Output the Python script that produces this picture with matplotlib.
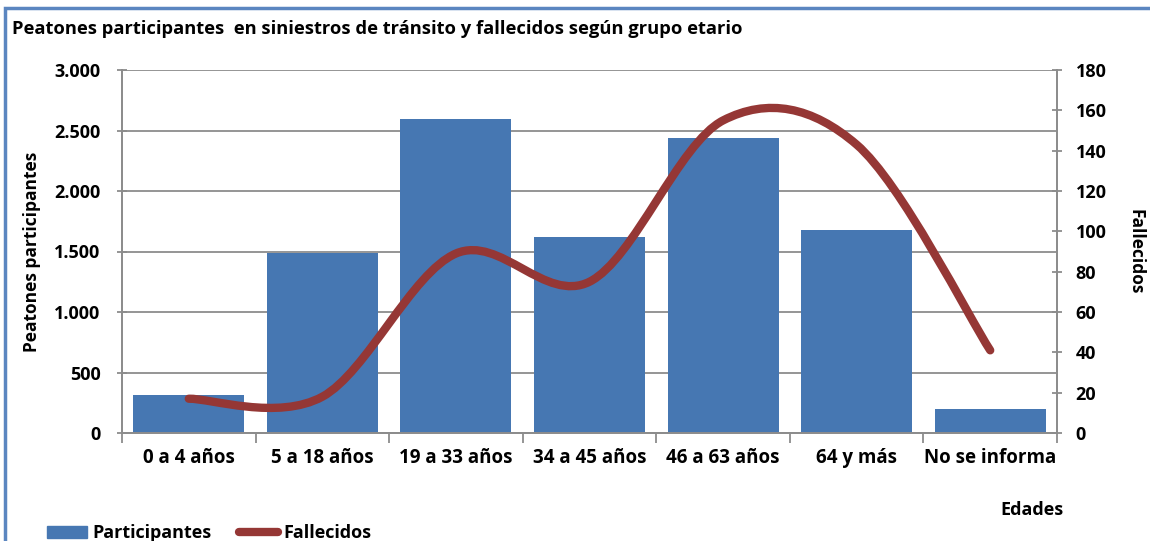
import numpy as np
import matplotlib.pyplot as plt
from matplotlib.path import Path
from matplotlib.patches import PathPatch, Rectangle
from matplotlib.lines import Line2D
from matplotlib.ticker import FuncFormatter

plt.rcParams['font.family'] = ['Open Sans', 'DejaVu Sans']
plt.rcParams['font.weight'] = 'bold'

# datos
grupos = ['0 a 4 años', '5 a 18 años', '19 a 33 años', '34 a 45 años',
          '46 a 63 años', '64 y más', 'No se informa']
participantes = [312, 1488, 2595, 1618, 2438, 1675, 198]
fallecidos = [17, 18, 89, 75, 155, 143, 41]

color_barra = '#4677b2'
color_linea = '#953735'
color_gris = '#8c8c8c'

fig = plt.figure(figsize=(11.5, 5.41), dpi=100)
ax = fig.add_axes([122 / 1150, 1 - 433 / 541, (1057 - 122) / 1150, (433 - 70) / 541])
ax2 = ax.twinx()

x = np.arange(len(grupos))
ax.bar(x, participantes, width=0.83, color=color_barra, zorder=2)

ax.set_xlim(-0.5, len(grupos) - 0.5)
ax.set_ylim(0, 3000)
ax.set_yticks(np.arange(0, 3001, 500))
ax.yaxis.set_major_formatter(FuncFormatter(lambda v, p: f'{int(v):,}'.replace(',', '.')))
ax.grid(axis='y', color=color_gris, linewidth=1.3, zorder=0)
ax.set_axisbelow(True)

ax.set_xticks(x)
ax.set_xticklabels(grupos, fontsize=13.5, fontweight='bold')
ax.set_xticks(np.arange(-0.5, len(grupos), 1), minor=True)
ax.tick_params(axis='x', which='major', length=0, pad=11)
ax.tick_params(axis='x', which='minor', length=7, color=color_gris, width=1.3)
ax.tick_params(axis='y', labelsize=13, length=7, direction='inout', color=color_gris, width=1.3, pad=12)

for s in ['top']:
    ax.spines[s].set_visible(False)
    ax2.spines[s].set_visible(False)
for s in ['left', 'bottom', 'right']:
    ax.spines[s].set_color(color_gris)
    ax.spines[s].set_linewidth(1.3)
    ax2.spines[s].set_color(color_gris)
    ax2.spines[s].set_linewidth(1.3)

ax2.set_ylim(0, 180)
ax2.set_yticks(np.arange(0, 181, 20))
ax2.tick_params(axis='y', labelsize=13, length=7, direction='inout', color=color_gris, width=1.3, pad=10)

# linea suavizada (bezier tipo excel) a partir de los puntos
px = x.astype(float)
py = np.array(fallecidos, dtype=float)
n = len(px)
verts = [(px[0], py[0])]
codes = [Path.MOVETO]
for i in range(n - 1):
    a = max(i - 1, 0)
    b = min(i + 2, n - 1)
    c1 = (px[i] + (px[i + 1] - px[a]) / 6, py[i] + (py[i + 1] - py[a]) / 6)
    c2 = (px[i + 1] - (px[b] - px[i]) / 6, py[i + 1] - (py[b] - py[i]) / 6)
    verts += [c1, c2, (px[i + 1], py[i + 1])]
    codes += [Path.CURVE4, Path.CURVE4, Path.CURVE4]
ax2.add_patch(PathPatch(Path(verts, codes), fill=False, edgecolor=color_linea,
                        linewidth=6, capstyle='round', joinstyle='round', zorder=3))

ax.set_ylabel('Peatones participantes', fontsize=12.5, fontweight='bold')
ax.yaxis.set_label_coords(-0.087, 0.5)
ax2.set_ylabel('Fallecidos', fontsize=12.5, fontweight='bold', rotation=-90)
ax2.yaxis.set_label_coords(1.094, 0.5)

fig.text(12 / 1150, 1 - 29 / 541, 'Peatones participantes  en siniestros de tránsito y fallecidos según grupo etario',
         fontsize=13.2, fontweight='bold', va='center', ha='left')
fig.text(1032 / 1150, 1 - 510 / 541, 'Edades', fontsize=13, fontweight='bold', va='center', ha='center')

# borde del grafico
fig.patches.append(Rectangle((5 / 1150, -0.1), 1.2, 1 - 8 / 541 + 0.1, transform=fig.transFigure,
                             fill=False, edgecolor='#5b86c0', linewidth=2.5, figure=fig))

handles = [Rectangle((0, 0), 1, 1, color=color_barra),
           Line2D([0], [0], color=color_linea, linewidth=6, solid_capstyle='round')]
fig.legend(handles, ['Participantes', 'Fallecidos'], loc='upper left',
           bbox_to_anchor=(40 / 1150, 1 - 517 / 541), bbox_transform=fig.transFigure,
           ncol=2, frameon=False, prop={'weight': 'bold', 'size': 13},
           handlelength=2.2, handletextpad=0.3, columnspacing=1.5, borderaxespad=0)

fig.savefig('out.png', dpi=100)
